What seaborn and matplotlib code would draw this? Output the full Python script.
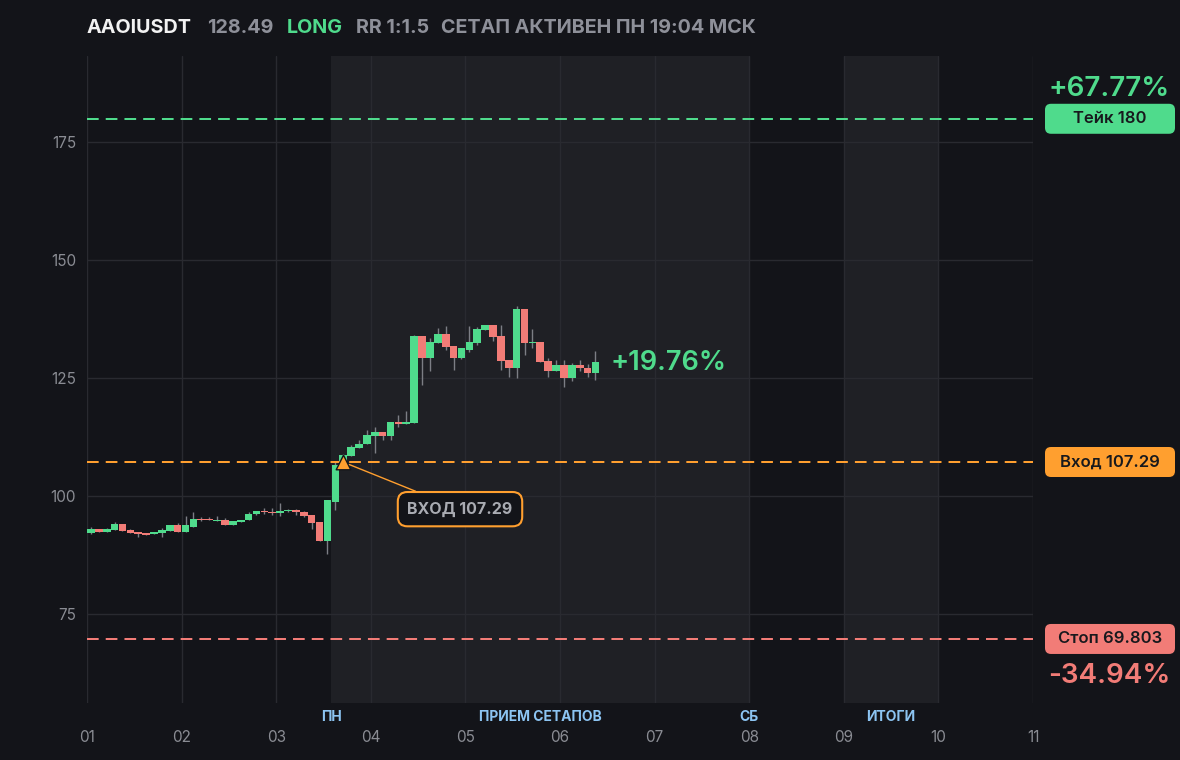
import matplotlib
matplotlib.use('Agg')
import numpy as np
import pandas as pd
import matplotlib.pyplot as plt
import matplotlib.transforms as mtransforms
from matplotlib.patches import FancyBboxPatch
import seaborn as sns

# 2-часовые свечи AAOIUSDT, первая свеча с 01 числа 00:00
opens = [92.2, 93.0, 92.4, 92.8, 94.1, 92.8, 92.4, 92.2, 92.0, 92.2,
         92.6, 93.9, 92.4, 93.6, 95.3, 95.3, 94.7, 95.1, 93.9, 94.5,
         95.1, 96.2, 97.0, 96.8, 96.4, 96.9, 97.2, 96.8, 96.0, 94.5,
         90.5, 98.9, 106.6, 108.5, 110.2, 111.0, 112.9, 113.6, 112.9, 115.7,
         115.3, 115.5, 133.9, 129.4, 132.6, 134.5, 131.8, 129.4, 131.1, 132.6,
         135.2, 136.4, 133.9, 128.8, 127.1, 139.6, 132.4, 132.8, 128.6, 126.5,
         127.8, 125.0, 127.8, 127.3, 126.1]
highs = [93.6, 93.2, 93.4, 94.5, 94.1, 93.2, 92.4, 92.2, 92.4, 93.3,
         93.9, 94.3, 95.8, 96.8, 95.6, 95.6, 95.8, 95.5, 94.7, 95.1,
         96.6, 97.0, 97.5, 97.5, 98.7, 97.4, 97.4, 97.0, 96.0, 94.5,
         99.2, 107.3, 109.0, 110.9, 111.9, 114.0, 114.6, 113.6, 115.7, 117.2,
         118.2, 134.3, 133.9, 133.5, 135.6, 136.2, 131.8, 131.4, 136.0, 135.8,
         136.4, 136.4, 136.4, 128.8, 140.3, 139.6, 135.4, 132.8, 129.4, 129.0,
         128.8, 128.2, 128.8, 128.0, 130.7]
lows = [92.1, 92.4, 92.4, 92.8, 92.6, 92.2, 91.4, 91.8, 92.0, 91.4,
        92.6, 92.4, 92.4, 93.5, 94.7, 94.9, 94.7, 93.9, 93.9, 94.5,
        94.9, 96.0, 96.2, 96.0, 95.8, 96.6, 96.0, 95.6, 93.2, 90.5,
        87.9, 97.2, 106.4, 108.5, 110.2, 111.0, 109.1, 111.9, 111.9, 114.6,
        115.3, 115.5, 123.7, 126.5, 132.6, 131.1, 126.7, 129.2, 130.5, 132.0,
        135.2, 133.0, 126.7, 125.2, 125.0, 129.9, 131.4, 128.4, 125.2, 126.5,
        123.1, 124.4, 126.5, 125.4, 124.6]
closes = [93.0, 92.4, 93.0, 94.1, 92.6, 92.2, 92.0, 91.8, 92.4, 92.8,
          93.9, 92.4, 93.9, 95.3, 94.9, 94.9, 95.1, 93.9, 94.7, 95.1,
          96.2, 97.0, 96.6, 96.4, 97.0, 97.2, 96.6, 95.8, 94.3, 90.5,
          99.2, 106.6, 108.7, 110.4, 111.2, 113.1, 113.6, 112.9, 115.7, 115.3,
          115.7, 133.9, 129.4, 132.8, 134.5, 131.6, 129.4, 131.4, 132.8, 135.4,
          136.4, 133.7, 128.6, 127.1, 139.6, 132.4, 132.8, 128.4, 126.5, 127.8,
          125.0, 127.8, 127.1, 126.1, 128.49]

ticker = 'AAOIUSDT'
last_price = 128.49
entry = 107.29
entry_time = 3.706
take = 180
stop = 69.803
take_pct = '+67.77%'
stop_pct = '-34.94%'
last_pct = '+19.76%'

day_ticks = list(range(1, 12))
day_labels = [f'{d:02d}' for d in day_ticks]
y_ticks = [75, 100, 125, 150, 175]

# сессии (подсвеченные интервалы) и подписи под осью
sessions = [(3 + 7 / 12, 8), (9, 10)]
session_marks = [(3 + 7 / 12, 'ПН'), ((3 + 7 / 12 + 8) / 2, 'ПРИЕМ СЕТАПОВ'),
                 (8, 'СБ'), (9.5, 'ИТОГИ')]

BG = '#131419'
BAND = '#1f2025'
GRID = '#292a30'
TICK = '#8a8c93'
GREEN = '#4fdb8c'
RED = '#f27c77'
ORANGE = '#ff9f2f'
WICK = '#7c7e85'
LBLUE = '#8cc4f2'

sns.set_theme(style='dark', rc={
    'axes.facecolor': BG,
    'figure.facecolor': BG,
    'savefig.facecolor': BG,
    'axes.edgecolor': BG,
    'axes.grid': True,
    'grid.color': GRID,
    'grid.linewidth': 1,
    'xtick.color': TICK,
    'ytick.color': TICK,
})
plt.rcParams['font.family'] = ['Inter', 'DejaVu Sans']

df = pd.DataFrame({'open': opens, 'high': highs, 'low': lows, 'close': closes})
df['t'] = 1 + (np.arange(len(df)) + 0.5) / 12
df['up'] = df['close'] >= df['open']
df['lo'] = df[['open', 'close']].min(axis=1)
df['h'] = (df['close'] - df['open']).abs().clip(lower=0.3)

fig = plt.figure(figsize=(11.8, 7.6), dpi=100)
ax = fig.add_axes([87 / 1180, 1 - 702.7 / 760, 946 / 1180, 646.7 / 760])
for s in ax.spines.values():
    s.set_visible(False)

for a, b in sessions:
    ax.axvspan(a, b, color=BAND, lw=0, zorder=0)

ax.vlines(df['t'], df['low'], df['high'], color=WICK, lw=1, zorder=2)
ax.bar(df['t'], df['h'], bottom=df['lo'], width=0.97 / 12,
       color=np.where(df['up'], GREEN, RED), linewidth=0, zorder=3)

dash = (0, (5.8, 3.5))
ax.axhline(take, color=GREEN, lw=1.45, ls=dash, zorder=4)
ax.axhline(entry, color=ORANGE, lw=1.45, ls=dash, zorder=4)
ax.axhline(stop, color=RED, lw=1.45, ls=dash, zorder=4)

ax.set_xlim(1, 11)
ax.set_ylim(56.3, 193.3)
ax.set_xticks(day_ticks)
ax.set_xticklabels(day_labels)
ax.set_yticks(y_ticks)
ax.tick_params(axis='x', length=0, pad=20, labelsize=11)
ax.tick_params(axis='y', length=0, pad=8, labelsize=11)
ax.set_xlabel('')
ax.set_ylabel('')

# маркер входа
sns.scatterplot(x=[entry_time], y=[entry], marker='^', s=110, color=ORANGE,
                edgecolor='#15161a', linewidth=1, zorder=6, ax=ax, legend=False)
ax.annotate(f'ВХОД {entry}', xy=(entry_time, entry), xytext=(4.943, 97.3),
            ha='center', va='center', color='#a9abb2', fontsize=11.5, weight='bold',
            bbox=dict(boxstyle='round,pad=0.6,rounding_size=0.6', fc=BG, ec=ORANGE, lw=1.5),
            arrowprops=dict(arrowstyle='-', color=ORANGE, lw=1, shrinkA=0, shrinkB=5),
            zorder=7)

ax.annotate(last_pct, xy=(df['t'].iloc[-1], last_price), xytext=(11, -1),
            textcoords='offset points', ha='left', va='center',
            color=GREEN, fontsize=19.5, weight='semibold')

# подписи сессий
trans = mtransforms.blended_transform_factory(ax.transData, ax.transAxes)
for x, lab in session_marks:
    ax.text(x, -0.022, lab, transform=trans, ha='center', va='center',
            color=LBLUE, fontsize=10, weight='bold')

# плашки справа
ident = mtransforms.IdentityTransform()
boxes = [(take, f'Тейк {take}', GREEN), (entry, f'Вход {entry}', ORANGE),
         (stop, f'Стоп {stop}', RED)]
for val, lab, col in boxes:
    yp = ax.transData.transform((1, val))[1]
    patch = FancyBboxPatch((1045, yp - 15), 130, 30,
                           boxstyle='round,pad=0,rounding_size=6',
                           fc=col, ec='none', transform=ident)
    fig.add_artist(patch)
    fig.text(1110 / 1180, yp / 760, lab, ha='center', va='center',
             color='#18191d', fontsize=12, weight='semibold')

yp = ax.transData.transform((1, take))[1]
fig.text(1109 / 1180, (yp + 30) / 760, take_pct, ha='center', va='center',
         color=GREEN, fontsize=20, weight='semibold')
yp = ax.transData.transform((1, stop))[1]
fig.text(1109 / 1180, (yp - 37) / 760, stop_pct, ha='center', va='center',
         color=RED, fontsize=20, weight='semibold')

# заголовок
head = [(87, ticker, '#f2f2f2'), (207, f'{last_price}', '#8e9099'),
        (287, 'LONG', GREEN), (356, 'RR 1:1.5', '#8e9099'),
        (441, 'СЕТАП АКТИВЕН ПН 19:04 МСК', '#8e9099')]
for x, lab, col in head:
    fig.text(x / 1180, 1 - 28 / 760, lab, ha='left', va='center',
             color=col, fontsize=14.2, weight='bold')

fig.savefig('out.png', dpi=100)
